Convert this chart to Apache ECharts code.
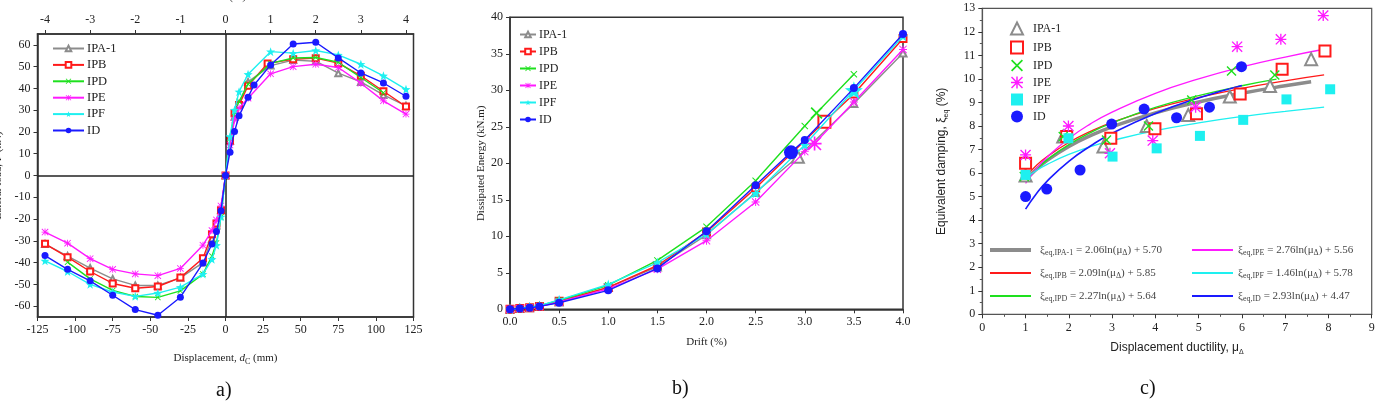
<!DOCTYPE html>
<html><head><meta charset="utf-8">
<script src="https://cdn.jsdelivr.net/npm/echarts@6/dist/echarts.min.js"></script>
<style>html,body{margin:0;padding:0;background:#fff}#c{width:1375px;height:401px}</style>
</head><body><div id="c"></div>
<script>
// ---------------- DATA ----------------
const specimens = ['IPA-1', 'IPB', 'IPD', 'IPE', 'IPF', 'ID'];

// a) Lateral load vs displacement (mm), [displacement, load]
const aIPA1 = [[-120,-31.5],[-105,-37],[-90,-42.5],[-75,-47.5],[-60,-50.5],[-45,-50.5],[-30,-47],[-15,-40],[-9,-29],[-6,-23],[-3,-16],[0,0],[3,16],[6,27],[9,33],[15,43],[30,50.5],[45,53],[60,52.5],[75,47],[90,43],[105,37],[120,32]];
const aIPB  = [[-120,-31.4],[-105,-37.5],[-90,-44.1],[-75,-49.6],[-60,-51.8],[-45,-51],[-30,-46.9],[-15,-38],[-9,-27],[-6,-22],[-3,-16],[0,0],[3,16],[6,28.6],[9,32.4],[15,41.2],[28,51.5],[45,53.4],[60,53.9],[75,51.6],[90,45.8],[105,38.7],[120,31.7]];
const aIPD  = [[-105,-39.8],[-90,-47.5],[-75,-52.8],[-60,-55.6],[-45,-56],[-30,-53],[-15,-45.3],[-9,-37],[-6,-31],[-3,-19],[0,0],[3,17],[6,29],[9,34],[15,42],[30,51.5],[45,54],[60,54.2],[75,52],[90,45],[105,38]];
const aIPE  = [[-120,-26],[-105,-31.1],[-90,-38.2],[-75,-43.1],[-60,-45.2],[-45,-46],[-30,-42.7],[-15,-32],[-9,-25.3],[-6,-20.4],[-3,-14],[0,0],[3,14],[6,25.5],[9,31],[15,35.5],[30,46.7],[45,50],[60,51.1],[75,49.6],[90,42.4],[105,34.3],[120,28.2]];
const aIPF  = [[-120,-39.2],[-105,-44.1],[-90,-50],[-75,-53.5],[-60,-55.5],[-45,-54],[-30,-51.3],[-15,-45.3],[-9,-38.5],[-6,-32],[-3,-19],[0,0],[3,17.9],[6,30.1],[9,38.5],[15,46.5],[30,56.9],[45,56.2],[60,57.4],[75,55.4],[90,51.1],[105,45.8],[120,39.6]];
const aID   = [[-120,-36.8],[-105,-43.1],[-90,-48.4],[-75,-55],[-60,-61.6],[-45,-64.2],[-30,-55.9],[-15,-40.2],[-9,-31.5],[-6,-25.7],[-3,-16.2],[0,0],[3,10.7],[6,20.2],[9,27.4],[15,36],[19,41.6],[30,50.8],[45,60.4],[60,61.2],[75,54],[90,47.1],[105,42.5],[120,36.4]];
const aDriftTicks = [-4,-3,-2,-1,0,1,2,3,4];
const aDriftToMm = 30;
const aLoadTicks = [-60,-50,-40,-30,-20,-10,0,10,20,30,40,50,60];

// b) Dissipated energy vs drift, [drift %, kN.m]
const bIPA1 = [[0,0],[0.1,0.1],[0.2,0.2],[0.3,0.4],[0.5,1.0],[1,3.0],[1.5,5.8],[2,10.2],[2.5,16.0],[2.93,20.9],[3.5,28.2],[4,35.1]];
const bIPB  = [[0,0],[0.1,0.1],[0.2,0.2],[0.3,0.4],[0.5,1.1],[1,3.0],[1.5,6.0],[2,10.6],[2.5,16.6],[3.2,25.7],[3.5,29.5],[4,37.1]];
const bIPD  = [[0,0],[0.1,0.15],[0.2,0.3],[0.3,0.5],[0.5,1.2],[1,3.3],[1.5,6.7],[2,11.3],[2.5,17.6],[3,25.1],[3.12,26.9],[3.5,32.2]];
const bIPE  = [[0,0],[0.1,0.1],[0.2,0.2],[0.3,0.4],[0.5,1.0],[1,2.8],[1.5,5.5],[2,9.4],[2.5,14.7],[3,21.6],[3.1,22.7],[3.5,28.4],[4,35.6]];
const bIPF  = [[0,0],[0.1,0.15],[0.2,0.3],[0.3,0.5],[0.5,1.3],[1,3.4],[1.5,6.4],[2,10.3],[2.5,15.9],[3,22.5],[3.5,30.0],[4,37.4]];
const bID   = [[0,0],[0.1,0.1],[0.2,0.2],[0.3,0.4],[0.5,0.9],[1,2.6],[1.5,5.6],[2,10.7],[2.5,17.0],[2.86,21.5],[3,23.2],[3.5,30.3],[4,37.7]];
const bMarkedDrift = [2.93, 3.2, 3.12, 3.1, 3.5, 2.86];

// c) Equivalent damping vs displacement ductility, [mu, xi]
const cIPA1 = [[1,5.9],[1.87,7.55],[2.8,7.13],[3.8,8.0],[4.76,8.47],[5.72,9.25],[6.65,9.7],[7.6,10.84]];
const cIPB  = [[1,6.42],[1.95,7.55],[2.97,7.48],[3.99,7.88],[4.95,8.52],[5.96,9.36],[6.93,10.41],[7.92,11.19]];
const cIPD  = [[0.97,5.85],[1.87,7.55],[2.87,7.4],[3.84,8.0],[4.84,9.1],[5.76,10.34],[6.76,10.17]];
const cIPE  = [[1,6.77],[1.99,8.0],[2.95,6.84],[3.94,7.38],[4.93,8.8],[5.89,11.37],[6.9,11.68],[7.88,12.69]];
const cIPF  = [[1,5.92],[1.99,7.48],[3.01,6.7],[4.03,7.05],[5.03,7.58],[6.03,8.26],[7.03,9.13],[8.04,9.56]];
const cID   = [[1,5.0],[1.49,5.32],[2.26,6.13],[2.99,8.08],[3.74,8.72],[4.49,8.35],[5.25,8.8],[5.99,10.52]];
// fitted curves as drawn
const fitIPA1 = [[1,5.70],[1.25,6.16],[1.5,6.54],[2,7.13],[2.5,7.59],[3,7.96],[4,8.56],[5,9.02],[6,9.39],[7,9.71],[7.6,9.88]];
const fitIPB  = [[1,5.85],[1.25,6.32],[1.5,6.70],[2,7.30],[2.5,7.77],[3,8.15],[4,8.75],[5,9.21],[6,9.60],[7,9.92],[7.9,10.17]];
const fitIPD  = [[1,5.64],[1.25,6.15],[1.5,6.56],[2,7.21],[2.5,7.72],[3,8.13],[4,8.79],[5,9.29],[6,9.71],[6.8,9.99]];
const fitIPE  = [[1,5.56],[1.25,6.18],[1.5,6.68],[2,7.47],[2.5,8.09],[3,8.59],[4,9.39],[5,10.00],[6,10.51],[7,10.93],[7.9,11.26]];
const fitIPF  = [[1,5.78],[1.25,6.11],[1.5,6.37],[2,6.79],[2.5,7.12],[3,7.38],[4,7.80],[5,8.13],[6,8.40],[7,8.62],[7.9,8.80]];
const fitID   = [[1,4.47],[1.25,5.12],[1.5,5.66],[2,6.50],[2.5,7.15],[3,7.69],[4,8.53],[5,9.19],[6,9.72]];
const fitSlope = ['2.06', '2.09', '2.27', '2.76', '1.46', '2.93'];
const fitConst = ['5.70', '5.85', '5.64', '5.56', '5.78', '4.47'];

// ---------------- STYLE ----------------
const SERIF = "'Liberation Serif','Times New Roman',serif";
const SANS = "'Liberation Sans',Arial,sans-serif";
const colors = ['#8c8c8c', '#ff1a1a', '#1ee01e', '#ff1aff', '#1ef0f0', '#1a1aff'];
const X_PATH = 'path://M0,1L1,0L5,4L9,0L10,1L6,5L10,9L9,10L5,6L1,10L0,9L4,5Z';
const AST_PATH = 'path://M0,4.4L10,4.4L10,5.6L0,5.6ZM4.4,0L5.6,0L5.6,10L4.4,10ZM0.85,0L10,9.15L9.15,10L0,0.85ZM9.15,0L10,0.85L0.85,10L0,9.15Z';
const STAR_PATH = 'path://M5,0L6.2,3.6L10,3.8L7,6.1L8.1,9.8L5,7.6L1.9,9.8L3,6.1L0,3.8L3.8,3.6Z';
const symA = ['emptyTriangle', 'emptyRect', X_PATH, AST_PATH, STAR_PATH, 'circle'];
const symSizeA = [6, 6, 6, 7, 9, 7];
const symC = ['emptyTriangle', 'emptyRect', X_PATH, AST_PATH, 'rect', 'circle'];
const symSizeC = [12, 11, 10, 11, 10, 11];
const fitWidth = [3.5, 1.3, 1.3, 1.3, 1.3, 1.6];
const fitLegendWidth = [4, 1.8, 1.8, 1.8, 1.8, 2];

const aData = [aIPA1, aIPB, aIPD, aIPE, aIPF, aID];
const bData = [bIPA1, bIPB, bIPD, bIPE, bIPF, bID];
const cData = [cIPA1, cIPB, cIPD, cIPE, cIPF, cID];
const fitData = [fitIPA1, fitIPB, fitIPD, fitIPE, fitIPF, fitID];

const axisColor = '#333';
const baseAxis = (extra) => Object.assign({
  type: 'value',
  splitLine: { show: false },
  axisLine: { show: true, onZero: false, lineStyle: { color: axisColor, width: 1.5 } },
  axisTick: { show: true, length: 4, lineStyle: { color: axisColor, width: 1 } },
  axisLabel: { fontFamily: SERIF, fontSize: 12, color: '#222', margin: 7 },
  nameTextStyle: { fontFamily: SERIF, fontSize: 11, color: '#222' }
}, extra);

const series = [];
// zero lines in a)
series.push({
  type: 'line', xAxisIndex: 0, yAxisIndex: 0, data: [], silent: true, z: 1,
  markLine: { silent: true, symbol: ['none', 'none'], label: { show: false },
    lineStyle: { color: '#222', type: 'solid', width: 1.5 },
    data: [{ xAxis: 0 }, { yAxis: 0 }] }
});
specimens.forEach((s, i) => {
  series.push({
    name: 'a:' + s, type: 'line', xAxisIndex: 0, yAxisIndex: 0, data: aData[i],
    symbol: symA[i], symbolSize: symSizeA[i], showAllSymbol: true,
    lineStyle: { color: colors[i], width: 1.4 },
    itemStyle: { color: colors[i], borderWidth: 1 }, z: 3 + i
  });
});
specimens.forEach((s, i) => {
  series.push({
    name: 'b:' + s, type: 'line', xAxisIndex: 2, yAxisIndex: 1,
    data: bData[i].map(p => p[0] === bMarkedDrift[i] ? { value: p, symbolSize: symSizeA[i] * 2 } : p),
    symbol: symA[i], symbolSize: symSizeA[i] + 1, showAllSymbol: true,
    lineStyle: { color: colors[i], width: 1.4 },
    itemStyle: { color: colors[i], borderWidth: 1 }, z: 3 + i
  });
});
specimens.forEach((s, i) => {
  series.push({
    name: 'f:' + s, type: 'line', xAxisIndex: 3, yAxisIndex: 2, data: fitData[i],
    smooth: 0.5, symbol: 'none',
    lineStyle: { color: colors[i], width: fitWidth[i] },
    itemStyle: { color: colors[i] }, z: 2
  });
});
specimens.forEach((s, i) => {
  series.push({
    name: 'c:' + s, type: 'scatter', xAxisIndex: 3, yAxisIndex: 2, data: cData[i],
    symbol: symC[i], symbolSize: symSizeC[i],
    itemStyle: { color: colors[i], borderWidth: 1.3, opacity: 1 }, z: 5 + i
  });
});

const stripName = n => n.split(':')[1];
const subRich = {
  s: { fontFamily: SERIF, fontSize: 8, color: '#444', lineHeight: 8, verticalAlign: 'bottom' }
};
const eqText = n => { const i = specimens.indexOf(stripName(n));
  return 'ξ{s|eq,' + specimens[i] + '} = ' + fitSlope[i] + 'ln(μ{s|Δ}) + ' + fitConst[i]; };
const fitLegendItems = idx => idx.map(i => ({ name: 'f:' + specimens[i], lineStyle: { width: fitLegendWidth[i] } }));

const option = {
  animation: false,
  backgroundColor: '#fff',
  grid: [
    { left: 37.5, top: 34, width: 376, height: 283, show: true, borderColor: axisColor, borderWidth: 1.5, containLabel: false, outerBoundsMode: 'none' },
    { left: 510, top: 17.3, width: 393, height: 292, show: true, borderColor: axisColor, borderWidth: 1.5, containLabel: false, outerBoundsMode: 'none' },
    { left: 982.3, top: 8.3, width: 389.4, height: 306, show: true, borderColor: '#555', borderWidth: 1.2, containLabel: false, outerBoundsMode: 'none' }
  ],
  xAxis: [
    baseAxis({ gridIndex: 0, min: -125, max: 125, interval: 25,
      name: 'Displacement, {i|d}{s|C} (mm)', nameLocation: 'middle', nameGap: 33,
      nameTextStyle: { fontFamily: SERIF, fontSize: 11, color: '#222', lineHeight: 16,
        rich: { i: { fontFamily: SERIF, fontStyle: 'italic', fontSize: 11, color: '#222', lineHeight: 16 },
                s: { fontFamily: SERIF, fontSize: 8, color: '#222', lineHeight: 8, verticalAlign: 'bottom' } } } }),
    baseAxis({ gridIndex: 0, position: 'top', min: -125, max: 125,
      axisLabel: { fontFamily: SERIF, fontSize: 12, color: '#222', margin: 8,
        customValues: aDriftTicks.map(d => d * aDriftToMm), formatter: v => String(Math.round(v / aDriftToMm)) },
      axisTick: { show: true, length: 4, lineStyle: { color: axisColor }, customValues: aDriftTicks.map(d => d * aDriftToMm) },
      name: 'Drift (%)', nameLocation: 'middle', nameGap: 31 }),
    baseAxis({ gridIndex: 1, min: 0, max: 4, interval: 0.5,
      axisLabel: { fontFamily: SERIF, fontSize: 12, color: '#222', margin: 7, formatter: v => v.toFixed(1) },
      name: 'Drift (%)', nameLocation: 'middle', nameGap: 27 }),
    baseAxis({ gridIndex: 2, min: 0, max: 9, interval: 1,
      axisLine: { show: true, onZero: false, lineStyle: { color: '#555', width: 1.2 } },
      minorTick: { show: true, splitNumber: 2, length: 2.5, lineStyle: { color: '#555' } },
      axisLabel: { fontFamily: SERIF, fontSize: 12, color: '#222', margin: 8 },
      name: 'Displacement ductility, μ{s|Δ}', nameLocation: 'middle', nameGap: 22,
      nameTextStyle: { fontFamily: SANS, fontSize: 12, color: '#222', lineHeight: 16,
        rich: { s: { fontFamily: SANS, fontSize: 7, color: '#222', lineHeight: 7, verticalAlign: 'bottom' } } } })
  ],
  yAxis: [
    baseAxis({ gridIndex: 0, min: -65, max: 65,
      axisLabel: { fontFamily: SERIF, fontSize: 12, color: '#222', margin: 7, customValues: aLoadTicks },
      axisTick: { show: true, length: 4, lineStyle: { color: axisColor }, customValues: aLoadTicks },
      name: 'Lateral load, F (kN)', nameLocation: 'middle', nameGap: 34 }),
    baseAxis({ gridIndex: 1, min: 0, max: 40, interval: 5,
      name: 'Dissipated Energy (kN.m)', nameLocation: 'middle', nameGap: 21 }),
    baseAxis({ gridIndex: 2, min: 0, max: 13, interval: 1,
      axisLine: { show: true, onZero: false, lineStyle: { color: '#555', width: 1.2 } },
      minorTick: { show: true, splitNumber: 2, length: 2.5, lineStyle: { color: '#555' } },
      axisLabel: { fontFamily: SERIF, fontSize: 12, color: '#222', margin: 7 },
      name: 'Equivalent damping, ξ{s|eq} (%)', nameLocation: 'middle', nameGap: 33,
      nameTextStyle: { fontFamily: SANS, fontSize: 12, color: '#222', lineHeight: 16,
        rich: { s: { fontFamily: SANS, fontSize: 7, color: '#222', lineHeight: 7, verticalAlign: 'bottom' } } } })
  ],
  legend: [
    { data: specimens.map(s => 'a:' + s), orient: 'vertical', left: 52, top: 42, padding: 0,
      itemWidth: 31, itemHeight: 7, itemGap: 3.4, formatter: stripName,
      textStyle: { fontFamily: SERIF, fontSize: 12.5, color: '#222', padding: [0, 0, 0, -2] } },
    { data: specimens.map(s => 'b:' + s), orient: 'vertical', left: 519, top: 28.5, padding: 0,
      itemWidth: 16, itemHeight: 7, itemGap: 5, formatter: stripName,
      textStyle: { fontFamily: SERIF, fontSize: 12, color: '#222', padding: [0, 0, 0, -2] } },
    { data: specimens.map(s => 'c:' + s), orient: 'vertical', left: 1010, top: 21.5, padding: 0,
      itemWidth: 12, itemHeight: 12, itemGap: 5, formatter: stripName,
      textStyle: { fontFamily: SERIF, fontSize: 12, color: '#222', padding: [0, 0, 0, 5] } },
    { data: fitLegendItems([0, 1, 2]), orient: 'vertical', left: 988, top: 243, padding: 0,
      itemWidth: 41, itemHeight: 12, itemGap: 9, itemStyle: { opacity: 0 },
      formatter: eqText,
      textStyle: { fontFamily: SERIF, fontSize: 11, color: '#444', lineHeight: 14, padding: [0, 0, 0, 4], rich: subRich } },
    { data: fitLegendItems([3, 4, 5]), orient: 'vertical', left: 1191, top: 243, padding: 0,
      itemWidth: 41, itemHeight: 12, itemGap: 9, itemStyle: { opacity: 0 },
      formatter: eqText,
      textStyle: { fontFamily: SERIF, fontSize: 11, color: '#444', lineHeight: 14, padding: [0, 0, 0, 0], rich: subRich } }
  ],
  graphic: [
    { type: 'text', left: 216, top: 381, style: { text: 'a)', font: "20px 'Liberation Serif'", fill: '#111' } },
    { type: 'text', left: 672, top: 379, style: { text: 'b)', font: "20px 'Liberation Serif'", fill: '#111' } },
    { type: 'text', left: 1140, top: 379, style: { text: 'c)', font: "20px 'Liberation Serif'", fill: '#111' } }
  ],
  series: series
};

const chart = echarts.init(document.getElementById('c'), null, { renderer: 'canvas' });
chart.setOption(option);
</script>
</body></html>
